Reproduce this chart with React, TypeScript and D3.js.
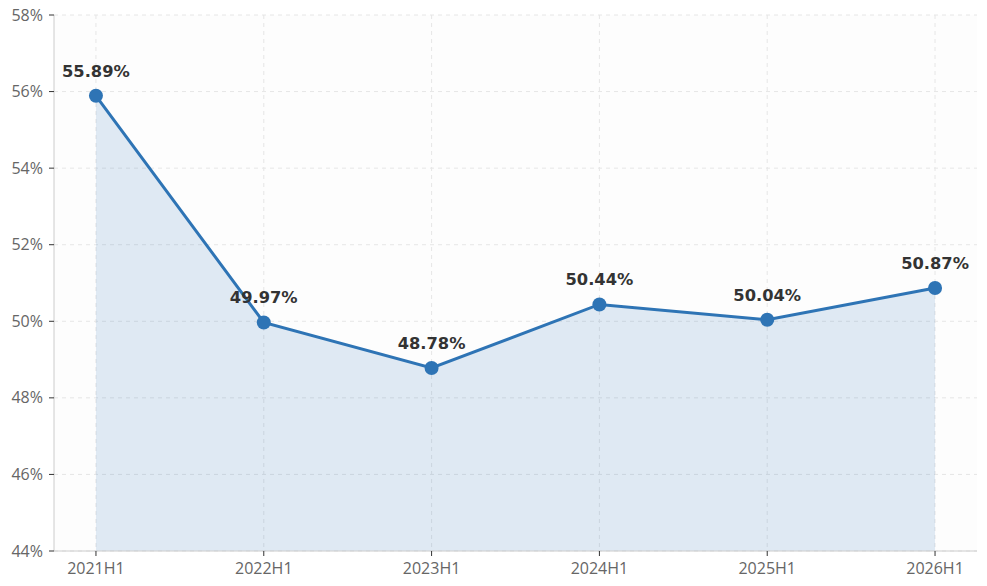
import React from "react";
import * as d3 from "d3";

const categories = ["2021H1", "2022H1", "2023H1", "2024H1", "2025H1", "2026H1"];
const values = [55.89, 49.97, 48.78, 50.44, 50.04, 50.87];
const yTicks = [44, 46, 48, 50, 52, 54, 56, 58];

export default function App() {
  const W = 987, H = 586;
  const m = { left: 54, right: 10, top: 15, bottom: 35 };
  const x = d3.scalePoint<string>().domain(categories).range([m.left, W - m.right]).padding(0.25);
  const y = d3.scaleLinear().domain([44, 58]).range([H - m.bottom, m.top]);
  const data = categories.map((c, i) => ({ c, v: values[i] }));
  const line = d3.line<{ c: string; v: number }>().x(d => x(d.c)!).y(d => y(d.v));
  const area = d3.area<{ c: string; v: number }>().x(d => x(d.c)!).y0(y(44)).y1(d => y(d.v));
  const color = "#2e74b5";
  return (
    <svg width={W} height={H} style={{ position: "absolute", left: 0, top: 0, background: "#fff" }}>
      <rect x={m.left} y={m.top} width={W - m.right - m.left} height={H - m.bottom - m.top} fill="#fdfdfd" />
      {yTicks.map(t => (
        <line key={"gy" + t} x1={m.left} x2={W - m.right} y1={y(t)} y2={y(t)} stroke="#e6e6e6" strokeDasharray="4,4" />
      ))}
      {categories.map(c => (
        <line key={"gx" + c} x1={x(c)} x2={x(c)} y1={m.top} y2={H - m.bottom} stroke="#e6e6e6" strokeDasharray="4,4" />
      ))}
      <path d={area(data)!} fill={color} fillOpacity={0.14} />
      <path d={line(data)!} fill="none" stroke={color} strokeWidth={3} />
      {data.map(d => (
        <circle key={d.c} cx={x(d.c)} cy={y(d.v)} r={7} fill={color} />
      ))}
      {data.map(d => (
        <text key={"l" + d.c} x={x(d.c)} y={y(d.v) - 19} textAnchor="middle" fontFamily="DejaVu Sans" fontWeight="bold" fontSize={16.3} fill="#333">
          {d.v.toFixed(2)}%
        </text>
      ))}
      <line x1={m.left} x2={m.left} y1={m.top} y2={H - m.bottom} stroke="#ccc" />
      <line x1={m.left} x2={W - m.right} y1={H - m.bottom} y2={H - m.bottom} stroke="#ccc" />
      {yTicks.map(t => (
        <g key={"ty" + t}>
          <line x1={m.left - 5} x2={m.left} y1={y(t)} y2={y(t)} stroke="#333" />
          <text x={m.left - 11} y={y(t)} dy="0.35em" textAnchor="end" fontFamily="Open Sans" fontSize={16} fill="#666">{t}%</text>
        </g>
      ))}
      {categories.map(c => (
        <g key={"tx" + c}>
          <line x1={x(c)} x2={x(c)} y1={H - m.bottom} y2={H - m.bottom + 5} stroke="#333" />
          <text x={x(c)} y={H - m.bottom + 23} textAnchor="middle" fontFamily="Open Sans" fontSize={16} fill="#666">{c}</text>
        </g>
      ))}
    </svg>
  );
}
